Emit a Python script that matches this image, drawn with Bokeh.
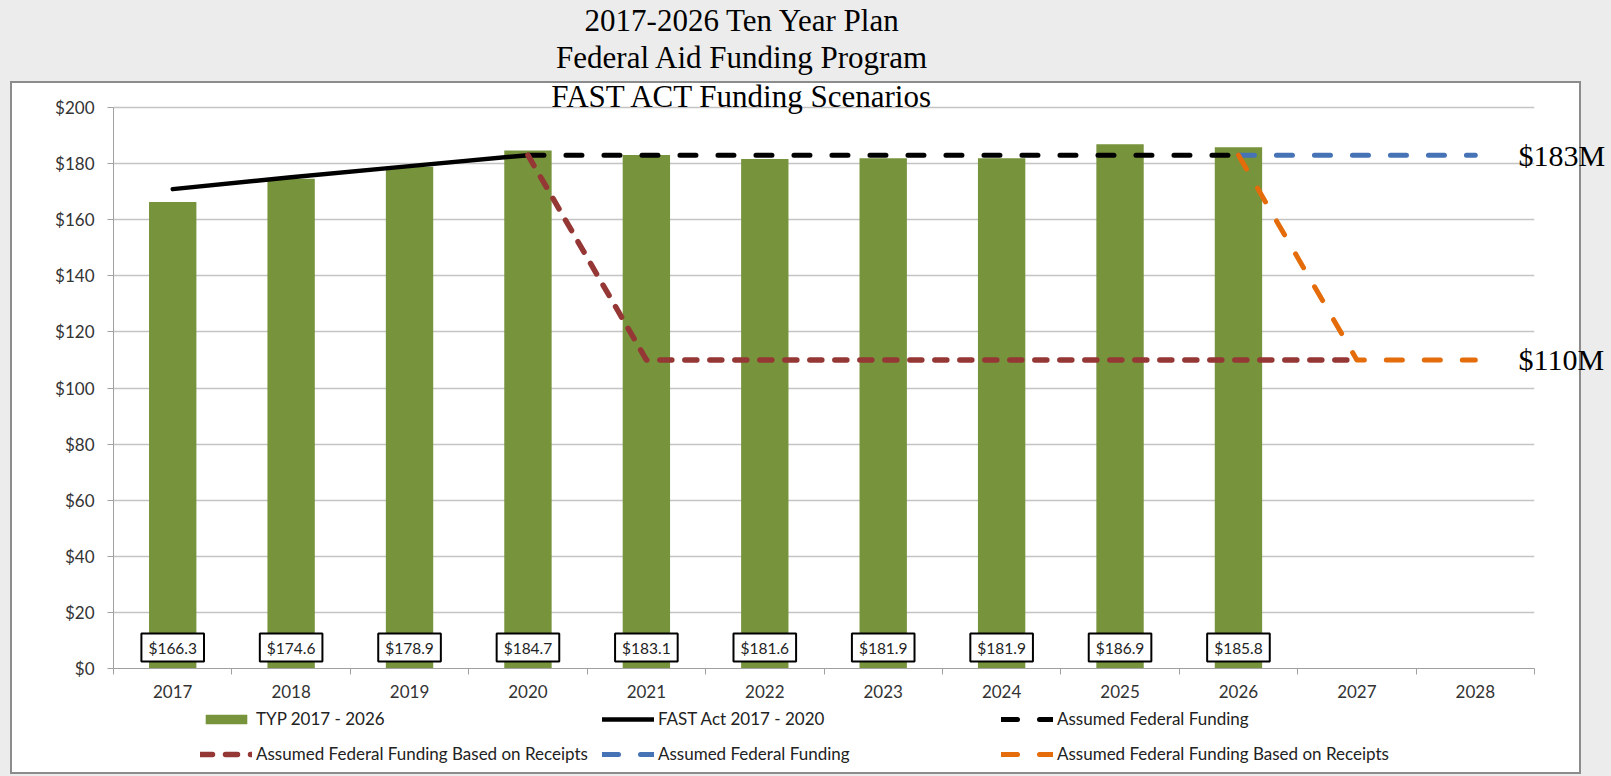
from bokeh.plotting import figure
from bokeh.layouts import column
from bokeh.models import (Range1d, FixedTicker, NumeralTickFormatter, Label, LinearAxis,
                          Legend, LegendItem, ColumnDataSource)
from bokeh.core.properties import value
from bokeh.embed import file_html
from bokeh.resources import INLINE

# ---------------- data ----------------
years = [2017, 2018, 2019, 2020, 2021, 2022, 2023, 2024, 2025, 2026, 2027, 2028]
category_edges = [2016.5, 2017.5, 2018.5, 2019.5, 2020.5, 2021.5, 2022.5, 2023.5,
                  2024.5, 2025.5, 2026.5, 2027.5, 2028.5]
typ_years = [2017, 2018, 2019, 2020, 2021, 2022, 2023, 2024, 2025, 2026]
typ_values = [166.3, 174.6, 178.9, 184.7, 183.1, 181.6, 181.9, 181.9, 186.9, 185.8]
typ_labels = ["$166.3", "$174.6", "$178.9", "$184.7", "$183.1", "$181.6", "$181.9",
              "$181.9", "$186.9", "$185.8"]
typ_label_base = [0, 0, 0, 0, 0, 0, 0, 0, 0, 0]

fast_years = [2017, 2018, 2019, 2020]
fast_values = [170.9, 175.1, 179.1, 183.0]

assumed_years = [2020, 2021, 2022, 2023, 2024, 2025, 2026]
assumed_values = [183, 183, 183, 183, 183, 183, 183]

receipts_years = [2020, 2021, 2022, 2023, 2024, 2025, 2026, 2027]
receipts_values = [183, 110, 110, 110, 110, 110, 110, 110]

assumed2_years = [2026, 2027, 2028]
assumed2_values = [183, 183, 183]

receipts2_years = [2026, 2027, 2028]
receipts2_values = [183, 110, 110]

y_ticks = [0, 20, 40, 60, 80, 100, 120, 140, 160, 180, 200]
end_labels = ["$183M", "$110M"]
end_values = [183, 110]

title_lines = ["2017-2026 Ten Year Plan", "Federal Aid Funding Program",
               "FAST ACT Funding Scenarios"]

series_names = ["TYP 2017 - 2026", "FAST Act 2017 - 2020", "Assumed Federal Funding",
                "Assumed Federal Funding Based on Receipts", "Assumed Federal Funding",
                "Assumed Federal Funding Based on Receipts"]

# ---------------- styles ----------------
GREEN, RED, BLUE, ORANGE = "#77933C", "#953735", "#4573B5", "#E46C0A"
series_styles = [
    dict(kind="bar", color=GREEN),
    dict(kind="line", color="black", width=4.5, dash="solid"),
    dict(kind="line", color="black", width=5, dash="16 22"),
    dict(kind="line", color=RED, width=5.5, dash="12 13"),
    dict(kind="line", color=BLUE, width=5, dash="16 22"),
    dict(kind="line", color=ORANGE, width=5, dash="16 22"),
]

# ---------------- layout constants (pixels) ----------------
W, H = 1611, 776
MAIN_H = 701
FL, FR, FB = 113, 77, 33           # frame borders of the main figure
FRAME_BOTTOM = MAIN_H - FB         # canvas y of the x axis (668)
PLOT_TOP = 107                     # canvas y of the top value gridline
y_top = y_ticks[-1] * FRAME_BOTTOM / (FRAME_BOTTOM - PLOT_TOP)

page_bg = ("linear-gradient(#ffffff,#ffffff) 12px 83px / 1567px 689px no-repeat, "
           "linear-gradient(#8c8c8c,#8c8c8c) 10px 81px / 1571px 693px no-repeat, "
           "#ececec")

x_range = Range1d(category_edges[0], category_edges[-1])

p = figure(width=W, height=MAIN_H, output_backend="svg", toolbar_location=None,
           x_range=x_range, y_range=Range1d(0, y_top),
           min_border_left=FL, min_border_right=FR, min_border_top=0,
           min_border_bottom=FB)
p.border_fill_alpha = 0
p.background_fill_alpha = 0
p.outline_line_color = None

# ---------------- axes ----------------
p.xaxis.ticker = FixedTicker(ticks=years, minor_ticks=category_edges)
p.xaxis.major_tick_out = 0
p.xaxis.major_tick_in = 0
p.xaxis.minor_tick_out = 6
p.xaxis.minor_tick_in = 0
p.xaxis.minor_tick_line_color = "#a0a0a0"
p.xaxis.axis_line_color = "#a0a0a0"
p.xaxis.major_label_standoff = 10
p.xaxis.major_label_text_font = "Lato"
p.xaxis.major_label_text_font_size = "17px"
p.xaxis.major_label_text_color = "#333333"

p.yaxis.ticker = FixedTicker(ticks=y_ticks, minor_ticks=[])
p.yaxis.bounds = (y_ticks[0], y_ticks[-1])
p.yaxis.formatter = NumeralTickFormatter(format="$0")
p.yaxis.major_tick_out = 6
p.yaxis.major_tick_in = 0
p.yaxis.major_tick_line_color = "#a0a0a0"
p.yaxis.axis_line_color = "#a0a0a0"
p.yaxis.minor_tick_line_color = None
p.yaxis.major_label_standoff = 13
p.yaxis.major_label_text_font = "Lato"
p.yaxis.major_label_text_font_size = "17px"
p.yaxis.major_label_text_color = "#333333"

p.xgrid.visible = False
p.ygrid.ticker = FixedTicker(ticks=y_ticks, minor_ticks=[])
p.ygrid.grid_line_color = "#c4c4c4"
p.ygrid.grid_line_width = 1.5

# end-of-line value labels as a right axis
right = LinearAxis(ticker=FixedTicker(ticks=end_values, minor_ticks=[]),
                   major_label_overrides={v: t for v, t in zip(end_values, end_labels)},
                   axis_line_color=None, major_tick_line_color=None,
                   minor_tick_line_color=None, major_tick_out=0, major_tick_in=0,
                   major_label_standoff=-16,
                   major_label_text_font="Liberation Serif",
                   major_label_text_font_size="30px", major_label_text_color="black")
p.add_layout(right, "right")

# ---------------- series ----------------
def draw(fig, st, xs, ys):
    if st["kind"] == "bar":
        return fig.vbar(x=xs, top=ys, width=0.40, fill_color=st["color"], line_color=None)
    return fig.line(xs, ys, line_color=st["color"], line_width=st["width"],
                    line_dash=st["dash"], line_cap="round", line_join="round")

series_x = [typ_years, fast_years, assumed_years, receipts_years, assumed2_years,
            receipts2_years]
series_y = [typ_values, fast_values, assumed_values, receipts_values, assumed2_values,
            receipts2_values]
for st, xs, ys in zip(series_styles, series_x, series_y):
    draw(p, st, xs, ys)

# value boxes at the bottom of the bars
src = ColumnDataSource(dict(x=typ_years, y=typ_label_base, t=typ_labels))
p.text(x="x", y="y", text="t", source=src, y_offset=-21,
       text_align="center", text_baseline="middle",
       text_font=value("Lato"), text_font_size="15.5px", text_color="#222222",
       background_fill_color="white", border_line_color="black",
       border_line_width=2, padding=dict(left=7, right=7, top=5, bottom=5))

# title lines (canvas pixels)
title_baselines = [20, 57, 96]
for txt, tb in zip(title_lines, title_baselines):
    p.add_layout(Label(x=742 - FL, x_units="screen", y=FRAME_BOTTOM - tb,
                       y_units="screen", text=txt, text_align="center",
                       text_baseline="alphabetic", text_font="Liberation Serif",
                       text_font_size="31px", text_color="black"))

# ---------------- legend strip (same series; its view shows none of the values) ----------------
LEG_H = H - MAIN_H
q = figure(width=W, height=LEG_H, output_backend="svg", toolbar_location=None,
           x_range=x_range, y_range=Range1d(300, 301),
           x_axis_location=None, y_axis_location=None,
           min_border_left=0, min_border_right=0, min_border_top=0, min_border_bottom=0)
q.border_fill_alpha = 0
q.background_fill_alpha = 0
q.outline_line_color = None
q.grid.visible = False

legend_rends = [draw(q, st, xs, ys) for st, xs, ys in zip(series_styles, series_x, series_y)]
items = [LegendItem(label=n, renderers=[r]) for n, r in zip(series_names, legend_rends)]
legend = Legend(items=items, orientation="horizontal", ncols=3,
                location=(200 - FL, LEG_H - 63),
                glyph_width=52, glyph_height=12, label_height=20, label_width=329,
                label_standoff=4, spacing=14, padding=0, margin=0,
                label_text_font="Lato", label_text_font_size="17px",
                label_text_color="#222222",
                background_fill_alpha=0, border_line_alpha=0)
q.add_layout(legend)

root = column(p, q, spacing=0, styles={"background": page_bg})
open("out.html", "w").write(file_html(root, INLINE))
